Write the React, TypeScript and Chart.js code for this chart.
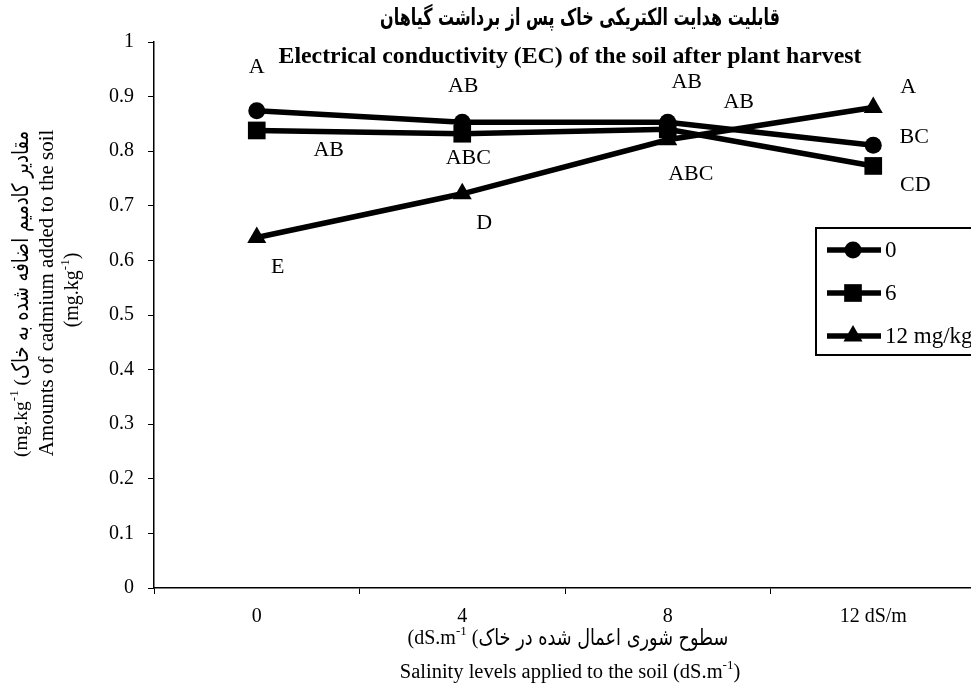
import React, { useEffect, useRef } from "react";
import { Chart, registerables } from "chart.js";

Chart.register(...registerables);

// ---------- data ----------
const salinityLabels = ["0", "4", "8", "12 dS/m"];
const cd0 = [0.874, 0.853, 0.853, 0.811];
const cd6 = [0.838, 0.832, 0.84, 0.773];
const cd12 = [0.642, 0.722, 0.821, 0.88];
const seriesNames = ["0", "6", "12 mg/kg"];
const letters0 = ["A", "AB", "AB", "BC"];
const letters6 = ["AB", "ABC", "AB", "CD"];
const letters12 = ["E", "D", "ABC", "A"];
const yMin = 0;
const yMax = 1;
const yStep = 0.1;

const titleFa = "قابلیت هدایت الکتریکی خاک پس از برداشت گیاهان";
const titleEn = "Electrical conductivity (EC) of the soil after plant harvest";
const xTitleFa = "سطوح شوری اعمال شده در خاک";
const xTitleEn = "Salinity levels applied to the soil (dS.m";
const yTitleFa = "مقادیر کادمیم اضافه شده به خاک";
const yTitleEn = "Amounts of cadmium added to the soil";
const unitMg = "(mg.kg";
const unitDs = "(dS.m";
const supMinusOne = "-1";

// ---------- style ----------
const W = 990;
const H = 691;
const SERIF = "'Liberation Serif', 'Times New Roman', serif";
const FA = "'DejaVu Sans', sans-serif";
const pointStyles = ["circle", "rect", "triangle"];
const pointRadii = [8.5, 12.5, 11];
// label offsets (px) relative to each marker
const letterOffsets = [
  [[0, -44], [1, -36], [19, -40], [41, -8]],
  [[72, 20], [6, 24], [71, -27], [42, 19]],
  [[21, 30], [22, 29], [23, 34], [35, -20]],
];

type Seg = { t: string; font: string; sup?: boolean; sx?: number };

// font that makes `text` (drawn with horizontal squeeze sx) exactly `target` wide
function fitFont(ctx: CanvasRenderingContext2D, text: string, weight: string, family: string, target: number, sx: number) {
  const base = 20;
  ctx.font = `${weight} ${base}px ${family}`;
  const w = ctx.measureText(text).width;
  const size = (base * target) / (w * sx);
  return `${weight} ${size.toFixed(2)}px ${family}`;
}

function drawRich(ctx: CanvasRenderingContext2D, segs: Seg[], cx: number, cy: number) {
  let total = 0;
  const widths = segs.map((s) => {
    ctx.font = s.font;
    const w = ctx.measureText(s.t).width * (s.sx ?? 1);
    total += w;
    return w;
  });
  let x = cx - total / 2;
  ctx.direction = "ltr";
  ctx.textAlign = "left";
  ctx.textBaseline = "middle";
  segs.forEach((s, i) => {
    ctx.font = s.font;
    const y = cy + (s.sup ? -7 : 0);
    if (s.sx && s.sx !== 1) {
      ctx.save();
      ctx.translate(x, y);
      ctx.scale(s.sx, 1);
      ctx.fillText(s.t, 0, 0);
      ctx.restore();
    } else {
      ctx.fillText(s.t, x, y);
    }
    x += widths[i];
  });
}

function drawMarker(ctx: CanvasRenderingContext2D, style: string, x: number, y: number, r: number) {
  ctx.beginPath();
  if (style === "circle") {
    ctx.arc(x, y, r, 0, Math.PI * 2);
  } else if (style === "rect") {
    const s = r * Math.SQRT1_2;
    ctx.rect(x - s, y - s, 2 * s, 2 * s);
  } else {
    let rad = 0;
    ctx.moveTo(x + Math.sin(rad) * r, y - Math.cos(rad) * r);
    rad += (2 * Math.PI) / 3;
    ctx.lineTo(x + Math.sin(rad) * r, y - Math.cos(rad) * r);
    rad += (2 * Math.PI) / 3;
    ctx.lineTo(x + Math.sin(rad) * r, y - Math.cos(rad) * r);
    ctx.closePath();
  }
  ctx.fill();
}

const decorPlugin = {
  id: "decor",
  afterDraw(chart: any) {
    const ctx: CanvasRenderingContext2D = chart.ctx;
    ctx.save();
    ctx.fillStyle = "#000";
    ctx.strokeStyle = "#000";

    // titles
    const sqT = 0.68;
    drawRich(ctx, [{ t: titleFa, font: fitFont(ctx, titleFa, "bold", FA, 400, sqT), sx: sqT }], 580, 19);
    drawRich(ctx, [{ t: titleEn, font: `bold 23.8px ${SERIF}` }], 570, 57);

    // x-axis titles
    const sqX = 0.78;
    const fx = fitFont(ctx, xTitleFa, "normal", FA, 250, sqX);
    drawRich(
      ctx,
      [
        { t: unitDs, font: `20px ${SERIF}` },
        { t: supMinusOne, font: `13px ${SERIF}`, sup: true },
        { t: " (", font: `20px ${SERIF}` },
        { t: xTitleFa, font: fx, sx: sqX },
      ],
      568,
      639
    );
    drawRich(
      ctx,
      [
        { t: xTitleEn, font: `20.5px ${SERIF}` },
        { t: supMinusOne, font: `13px ${SERIF}`, sup: true },
        { t: ")", font: `20.5px ${SERIF}` },
      ],
      570,
      673
    );

    // y-axis titles (rotated)
    const fy = fitFont(ctx, yTitleFa, "normal", FA, 248, sqX);
    const rot = (x: number, y: number, segs: Seg[]) => {
      ctx.save();
      ctx.translate(x, y);
      ctx.rotate(-Math.PI / 2);
      drawRich(ctx, segs, 0, 0);
      ctx.restore();
    };
    rot(22, 294, [
      { t: unitMg, font: `19.5px ${SERIF}` },
      { t: supMinusOne, font: `13px ${SERIF}`, sup: true },
      { t: " (", font: `19.5px ${SERIF}` },
      { t: yTitleFa, font: fy, sx: sqX },
    ]);
    rot(47, 293, [{ t: yTitleEn, font: `21px ${SERIF}` }]);
    rot(73, 290, [
      { t: unitMg, font: `20px ${SERIF}` },
      { t: supMinusOne, font: `13px ${SERIF}`, sup: true },
      { t: ")", font: `20px ${SERIF}` },
    ]);

    // letter labels
    const allLetters = [letters0, letters6, letters12];
    allLetters.forEach((letters, di) => {
      const meta = chart.getDatasetMeta(di);
      letters.forEach((txt, i) => {
        const p = meta.data[i];
        const [dx, dy] = letterOffsets[di][i];
        drawRich(ctx, [{ t: txt, font: `22px ${SERIF}` }], p.x + dx, p.y + dy);
      });
    });

    // legend
    ctx.lineWidth = 2;
    ctx.strokeRect(816, 228, 180, 127);
    const rows = [250, 293, 336];
    seriesNames.forEach((name, i) => {
      const y = rows[i];
      ctx.lineWidth = 5.5;
      ctx.beginPath();
      ctx.moveTo(827, y);
      ctx.lineTo(881, y);
      ctx.stroke();
      drawMarker(ctx, pointStyles[i], 853, y, pointRadii[i]);
      ctx.font = `23px ${SERIF}`;
      ctx.direction = "ltr";
      ctx.textAlign = "left";
      ctx.textBaseline = "middle";
      ctx.fillText(name, 885, y + 1);
    });

    ctx.restore();
  },
};

export default function App() {
  const ref = useRef<HTMLCanvasElement>(null);
  useEffect(() => {
    const canvas = ref.current!;
    const series = [cd0, cd6, cd12];
    const chart = new Chart(canvas, {
      type: "line",
      data: {
        labels: salinityLabels,
        datasets: series.map((vals, i) => ({
          label: seriesNames[i],
          data: vals,
          borderColor: "#000",
          backgroundColor: "#000",
          borderWidth: 5.5,
          pointStyle: pointStyles[i] as any,
          pointRadius: pointRadii[i],
          pointBorderWidth: 0,
          pointBackgroundColor: "#000",
          pointBorderColor: "#000",
          tension: 0,
          clip: false as any,
        })),
      },
      options: {
        responsive: false,
        animation: false,
        devicePixelRatio: 1,
        layout: { padding: { left: 0, right: W - 976, top: 42, bottom: 0 } },
        plugins: {
          legend: { display: false },
          title: { display: false },
          tooltip: { enabled: false },
        },
        scales: {
          x: {
            type: "category",
            offset: true,
            grid: {
              offset: true,
              drawOnChartArea: false,
              drawTicks: true,
              tickLength: 6,
              color: "#000",
              lineWidth: 1,
            },
            border: { display: true, color: "#000", width: 1.5 },
            ticks: {
              color: "#000",
              font: { size: 20, family: SERIF },
              padding: 11,
              maxRotation: 0,
              autoSkip: false,
            },
            afterFit: (s: any) => {
              s.height = H - 588;
            },
          },
          y: {
            min: yMin,
            max: yMax,
            ticks: {
              stepSize: yStep,
              color: "#000",
              font: { size: 20, family: SERIF },
              padding: 14,
              callback: (v: any) => String(Number(Number(v).toFixed(1))),
            },
            grid: { drawOnChartArea: false, drawTicks: true, tickLength: 6, color: "#000" },
            border: { display: true, color: "#000", width: 1.5 },
            afterFit: (s: any) => {
              s.width = 154;
            },
          },
        },
      },
      plugins: [decorPlugin],
    });
    return () => chart.destroy();
  }, []);

  return (
    <div
      style={{
        position: "fixed",
        left: 0,
        top: 0,
        width: 971,
        height: 691,
        overflow: "hidden",
        background: "#fff",
      }}
    >
      <canvas ref={ref} width={W} height={H} style={{ display: "block", width: W, height: H }} />
    </div>
  );
}
